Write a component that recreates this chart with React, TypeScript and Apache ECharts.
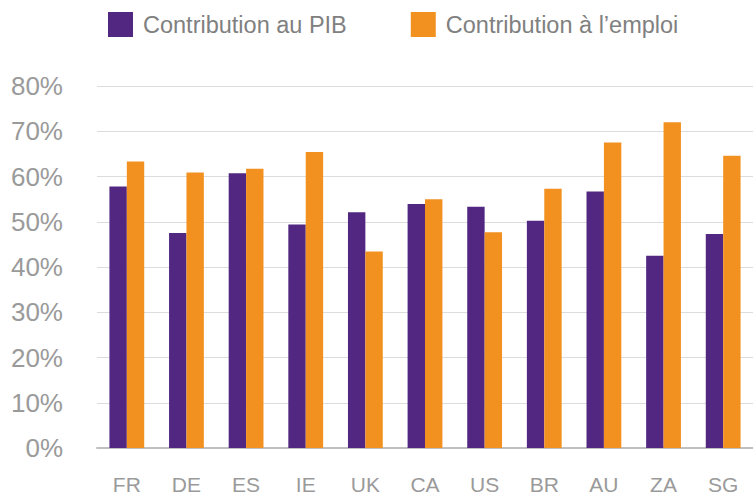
import React, { useEffect, useRef } from "react";
import * as echarts from "echarts";

const categories = ["FR", "DE", "ES", "IE", "UK", "CA", "US", "BR", "AU", "ZA", "SG"];
const pibValues = [57.8, 47.5, 60.7, 49.4, 52.1, 53.9, 53.3, 50.2, 56.7, 42.5, 47.3];
const emploiValues = [63.3, 60.9, 61.7, 65.4, 43.4, 55.0, 47.7, 57.3, 67.5, 72.0, 64.6];
const seriesNames = ["Contribution au PIB", "Contribution à l’emploi"];

export default function App() {
  const ref = useRef<HTMLDivElement>(null);
  useEffect(() => {
    if (!ref.current) return;
    const chart = echarts.init(ref.current, null, { renderer: "svg" });
    const font = "Arial, 'Liberation Sans', sans-serif";
    chart.setOption({
      animation: false,
      backgroundColor: "#ffffff",
      legend: {
        left: 103,
        top: 7,
        itemWidth: 25,
        itemHeight: 25,
        itemGap: 64,
        icon: "rect",
        textStyle: { fontFamily: font, fontSize: 23.5, color: "#808080", padding: [0, 0, 0, 5] },
        data: seriesNames,
      },
      grid: { left: 97, right: 0, top: 86, bottom: 47 },
      xAxis: {
        type: "category",
        data: categories,
        axisLine: { lineStyle: { color: "#c0c0c0", width: 2 } },
        axisTick: { show: false },
        axisLabel: { fontFamily: font, fontSize: 21, color: "#9a9a9a", margin: 26 },
      },
      yAxis: {
        type: "value",
        min: 0,
        max: 80,
        interval: 10,
        axisLine: { show: false },
        axisTick: { show: false },
        splitLine: { lineStyle: { color: "#dcdcdc", width: 1 } },
        axisLabel: {
          fontFamily: font,
          fontSize: 26,
          color: "#9a9a9a",
          margin: 34,
          padding: [0, 0, 10, 0],
          formatter: (v: number) => `${v}%`,
        },
      },
      series: [
        {
          name: seriesNames[0],
          type: "bar",
          data: pibValues,
          barWidth: 17.4,
          barGap: "0%",
          itemStyle: { color: "#512781" },
        },
        {
          name: seriesNames[1],
          type: "bar",
          data: emploiValues,
          barWidth: 17.4,
          barGap: "0%",
          itemStyle: { color: "#f29120" },
        },
      ],
    });
    return () => chart.dispose();
  }, []);
  return (
    <div style={{ position: "fixed", left: 0, top: 0, width: 753, height: 495 }}>
      <div ref={ref} style={{ width: 753, height: 495 }} />
    </div>
  );
}
